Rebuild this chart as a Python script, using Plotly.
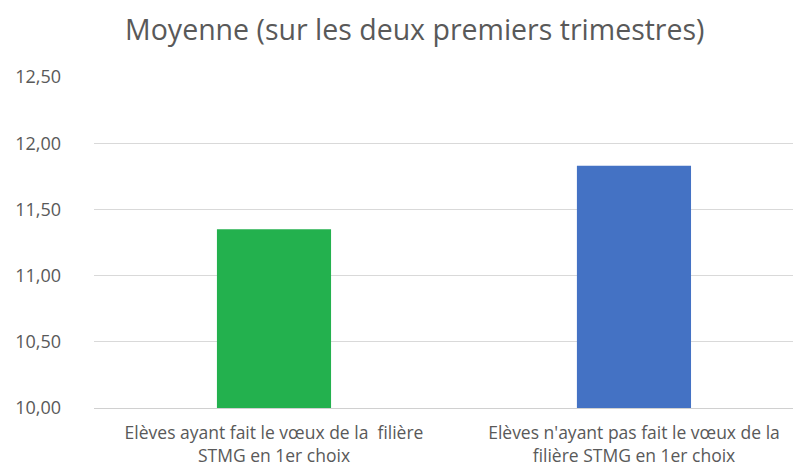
import plotly.graph_objects as go

categories = [
    "Elèves ayant fait le vœux de la  filière<br>STMG en 1er choix",
    "Elèves n'ayant pas fait le vœux de la<br>filière STMG en 1er choix",
]
values = [11.35, 11.83]
colors = ["#23B14E", "#4472C4"]
y_ticks = [10.0, 10.5, 11.0, 11.5, 12.0, 12.5]
y_tick_labels = ["10,00", "10,50", "11,00", "11,50", "12,00", "12,50"]

FONT = "Open Sans, Noto Sans, sans-serif"

# The page body has an 8px default margin; the figure is sized to fit the window.
W, H = 793, 460

fig = go.Figure(
    go.Bar(
        x=[0, 1],
        y=values,
        marker=dict(color=colors, line=dict(width=0)),
        width=0.317,
        hoverinfo="y",
    )
)

fig.update_layout(
    width=W,
    height=H,
    margin=dict(l=86, r=0, t=69, b=60),
    paper_bgcolor="white",
    plot_bgcolor="white",
    showlegend=False,
    title=dict(
        text="Moyenne (sur les deux premiers trimestres)",
        x=0.513,
        xanchor="center",
        y=0.953,
        yanchor="middle",
        font=dict(family=FONT, size=28.5, color="#595959"),
    ),
    font=dict(family=FONT, color="#595959"),
)

fig.update_xaxes(
    range=[-0.5, 1.464],
    tickmode="array",
    tickvals=[0, 1],
    ticktext=categories,
    tickfont=dict(size=17.5, color="#595959"),
    showgrid=False,
    zeroline=False,
    showline=True,
    linecolor="#d0d0d0",
    linewidth=1,
    ticks="",
    ticklabelstandoff=9,
    automargin=False,
)

fig.update_yaxes(
    range=[10, 12.5],
    tickmode="array",
    tickvals=y_ticks,
    ticktext=y_tick_labels,
    tickfont=dict(size=18, color="#595959"),
    showgrid=True,
    gridcolor="#d9d9d9",
    gridwidth=1,
    zeroline=False,
    showline=False,
    ticks="",
    ticklabelstandoff=32,
    automargin=False,
)

fig.write_html("out.html")
